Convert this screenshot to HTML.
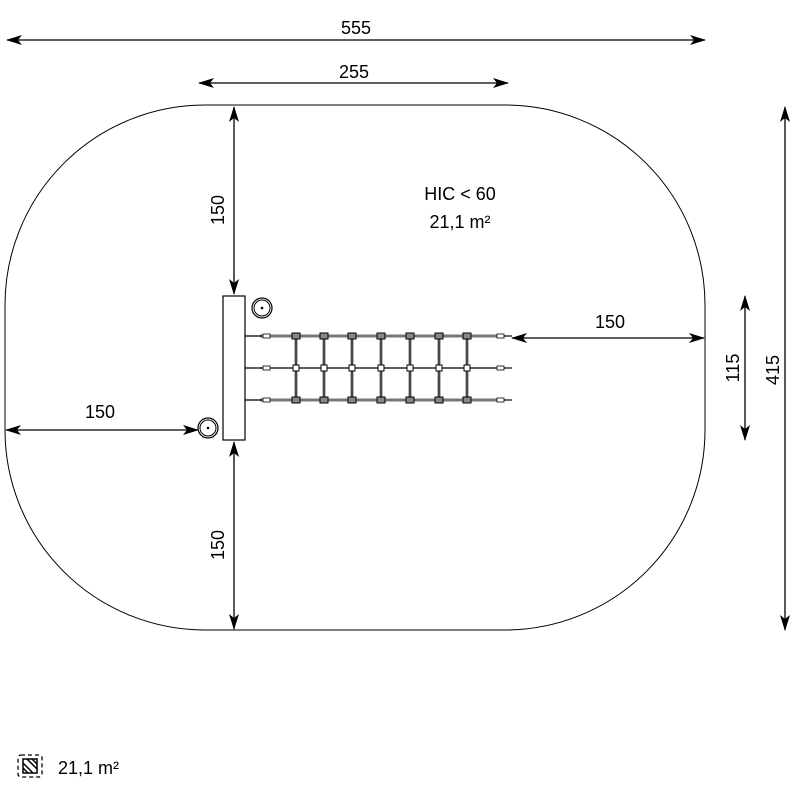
<!DOCTYPE html>
<html><head><style>body{margin:0;background:#fff}</style></head><body>
<svg width="800" height="800" viewBox="0 0 800 800" xmlns="http://www.w3.org/2000/svg" font-family="Liberation Sans, sans-serif">
<defs>
<marker id="a" markerWidth="16" markerHeight="10" refX="15" refY="5" orient="auto-start-reverse" markerUnits="userSpaceOnUse"><path d="M0,0 L16,5 L0,10 L4,5z" fill="#000"/></marker>
</defs>
<rect x="5" y="105" width="700" height="525" rx="200" ry="200" fill="none" stroke="#000" stroke-width="1"/>
<g stroke="#000" stroke-width="1.3" marker-start="url(#a)" marker-end="url(#a)">
<line x1="7" y1="40" x2="705" y2="40"/>
<line x1="199" y1="83" x2="508" y2="83"/>
<line x1="234" y1="107" x2="234" y2="294"/>
<line x1="234" y1="442" x2="234" y2="629"/>
<line x1="6" y1="430" x2="198" y2="430"/>
<line x1="512" y1="338" x2="704" y2="338"/>
<line x1="745" y1="296" x2="745" y2="440"/>
<line x1="785" y1="107" x2="785" y2="630"/>
</g>
<g font-size="18" fill="#000" text-anchor="middle">
<text x="356" y="34">555</text>
<text x="354" y="78">255</text>
<text x="100" y="418">150</text>
<text x="610" y="328">150</text>
<text x="460" y="200">HIC &lt; 60</text>
<text x="460" y="228">21,1 m²</text>
<text transform="translate(224,210) rotate(-90)">150</text>
<text transform="translate(224,545) rotate(-90)">150</text>
<text transform="translate(739,368) rotate(-90)">115</text>
<text transform="translate(779,370) rotate(-90)">415</text>
<text x="58" y="774" text-anchor="start">21,1 m²</text>
</g>
<g stroke="#000" fill="none">
<g stroke="#777" stroke-width="3">
<line x1="260" y1="336" x2="500" y2="336"/>
<line x1="260" y1="400" x2="500" y2="400"/>
</g>
<line x1="260" y1="368" x2="500" y2="368" stroke-width="1.2"/>
<g stroke-width="1.2">
<line x1="245" y1="336" x2="262" y2="336"/><line x1="245" y1="368" x2="262" y2="368"/><line x1="245" y1="400" x2="262" y2="400"/>
<line x1="498" y1="336" x2="512" y2="336"/><line x1="498" y1="368" x2="512" y2="368"/><line x1="498" y1="400" x2="512" y2="400"/>
</g>
<g id="c" stroke-width="1">
<line x1="296" y1="336" x2="296" y2="400" stroke="#777" stroke-width="3"/>
<line x1="296" y1="336" x2="296" y2="400" stroke="#000" stroke-width="0.8"/>
<rect x="292" y="333" width="8" height="6" fill="#888"/>
<rect x="292" y="397" width="8" height="6" fill="#888"/>
<rect x="293" y="365" width="6" height="6" fill="#fff"/>
</g>
<use href="#c" x="28"/><use href="#c" x="56"/><use href="#c" x="85"/><use href="#c" x="114"/><use href="#c" x="143"/><use href="#c" x="171"/>
<g fill="#fff" stroke-width="0.8">
<rect x="263" y="334" width="7" height="4"/><rect x="263" y="366" width="7" height="4"/><rect x="263" y="398" width="7" height="4"/>
<rect x="497" y="334" width="7" height="4"/><rect x="497" y="366" width="7" height="4"/><rect x="497" y="398" width="7" height="4"/>
</g>
<rect x="223" y="296" width="22" height="144" fill="#fff" stroke-width="1.2"/>
<circle cx="262" cy="308" r="10" fill="#fff" stroke-width="1.2"/><circle cx="262" cy="308" r="8"/>
<circle cx="208" cy="428" r="10" fill="#fff" stroke-width="1.2"/><circle cx="208" cy="428" r="8"/>
<circle cx="262" cy="308" r="0.8" fill="#000"/><circle cx="208" cy="428" r="0.8" fill="#000"/>
</g>
<rect x="18" y="755" width="24" height="22" rx="3" fill="none" stroke="#000" stroke-width="1.3" stroke-dasharray="4,3"/>
<rect x="23" y="759" width="14" height="14" fill="#fff" stroke="#000" stroke-width="1.5"/>
<g stroke="#000" stroke-width="1.5"><line x1="23" y1="763" x2="33" y2="773"/><line x1="23" y1="768" x2="28" y2="773"/><line x1="27" y1="759" x2="37" y2="769"/><line x1="32" y1="759" x2="37" y2="764"/></g>
</svg>
</body></html>
